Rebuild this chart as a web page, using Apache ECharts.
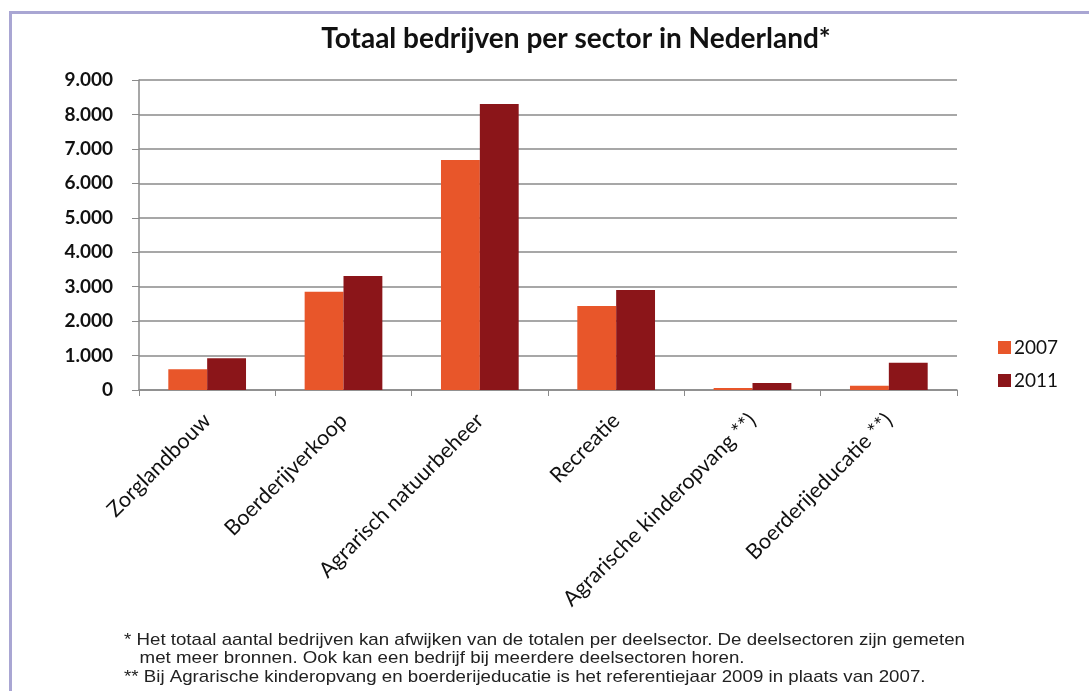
<!DOCTYPE html>
<html><head><meta charset="utf-8">
<script src="https://cdn.jsdelivr.net/npm/echarts@6/dist/echarts.min.js"></script>
<style>html,body{margin:0;padding:0;background:#fff}#c{width:1089px;height:691px}</style>
</head><body><div id="c"></div>
<script>
const categories = ['Zorglandbouw','Boerderijverkoop','Agrarisch natuurbeheer','Recreatie','Agrarische kinderopvang **)','Boerderijeducatie **)'];
const values2007 = [600, 2850, 6680, 2440, 60, 120];
const values2011 = [920, 3310, 8300, 2900, 200, 790];
const seriesNames = ['2007','2011'];
const yTicks = {min:0, max:9000, interval:1000};
const footnotes = [
 '* Het totaal aantal bedrijven kan afwijken van de totalen per deelsector. De deelsectoren zijn gemeten',
 '   met meer bronnen. Ook kan een bedrijf bij meerdere deelsectoren horen.',
 '** Bij Agrarische kinderopvang en boerderijeducatie is het referentiejaar 2009 in plaats van 2007.'
];
const chart = echarts.init(document.getElementById('c'));
const fmt = v => v === 0 ? '0' : String(v).replace(/\B(?=(\d{3})+(?!\d))/g, '.');
chart.setOption({
  backgroundColor:'#fff',
  animation:false,
  title:{text:'Totaal bedrijven per sector in Nederland*', left:571, textAlign:'center', top:20,
    textStyle:{fontFamily:'Lato', fontWeight:'bold', fontSize:28, color:'#111'}},
  legend:{orient:'vertical', left:993, top:333, itemWidth:13, itemHeight:13, itemGap:14, icon:'rect',
    textStyle:{fontFamily:'Lato', fontSize:19, color:'#111', padding:[0,0,0,-2]}, data:seriesNames},
  grid:{left:139, right:132, top:80, bottom:301, containLabel:false},
  xAxis:{type:'category', data:categories,
    axisLine:{lineStyle:{color:'#8a8a8a', width:1.5}},
    axisTick:{show:true, alignWithLabel:false, length:6, lineStyle:{color:'#8a8a8a'}},
    axisLabel:{rotate:45, interval:0, margin:27, fontFamily:'Lato', fontSize:21.5, color:'#111'}},
  yAxis:{type:'value', min:yTicks.min, max:yTicks.max, interval:yTicks.interval,
    axisLine:{show:true, lineStyle:{color:'#8a8a8a', width:1.5}},
    axisTick:{show:true, length:7, lineStyle:{color:'#8a8a8a'}},
    splitLine:{lineStyle:{color:'#8a8a8a', width:1.5}},
    axisLabel:{formatter:fmt, margin:26, fontFamily:'Lato', fontWeight:'bold', fontSize:19, color:'#111'}},
  series:[
    {name:seriesNames[0], type:'bar', data:values2007, barGap:'0%', barCategoryGap:'43%', itemStyle:{color:'#E8562A'}},
    {name:seriesNames[1], type:'bar', data:values2011, itemStyle:{color:'#8B1519'}}
  ],
  graphic:[
    {type:'rect', shape:{x:9, y:11, width:1080, height:3}, style:{fill:'#a9a6d3'}, silent:true},
    {type:'rect', shape:{x:9, y:11, width:3, height:680}, style:{fill:'#a9a6d3'}, silent:true},
    {type:'text', x:124, y:631, scaleX:1.1, style:{text:footnotes.join('\n'), fontFamily:'Liberation Sans', fontSize:17, lineHeight:18.5, fill:'#222'}}
  ]
});
</script></body></html>
